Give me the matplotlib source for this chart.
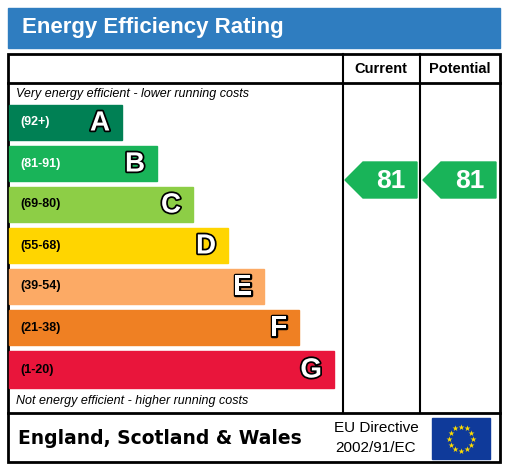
import matplotlib.pyplot as plt
from matplotlib.patches import Rectangle, Polygon
import matplotlib.patheffects as pe
import numpy as np

bands = ['A', 'B', 'C', 'D', 'E', 'F', 'G']
ranges = ['(92+)', '(81-91)', '(69-80)', '(55-68)', '(39-54)', '(21-38)', '(1-20)']
bar_ends = [122, 157, 193, 228, 264, 299, 334]
colors = ['#008054', '#19b459', '#8dce46', '#ffd500', '#fcaa65', '#ef8023', '#e9153b']
current = 81
potential = 81

fig = plt.figure(figsize=(5.09, 4.67), dpi=100)
ax = fig.add_axes([0, 0, 1, 1])
ax.set_xlim(0, 509)
ax.set_ylim(467, 0)
ax.axis('off')

# title bar
ax.add_patch(Rectangle((8, 8), 492, 40, color='#2f7dc0'))
ax.text(22, 28, 'Energy Efficiency Rating', color='white', fontsize=16,
        fontweight='bold', va='center', family='Liberation Sans')

# frame
ax.add_patch(Rectangle((8, 54), 492, 408, fill=False, lw=2, ec='black'))
ax.plot([8, 500], [83, 83], color='black', lw=2)
ax.plot([8, 500], [413, 413], color='black', lw=2)
for x in [343, 420]:
    ax.plot([x, x], [54, 413], color='black', lw=1.5)
ax.text(381, 69, 'Current', ha='center', va='center', fontsize=10.5,
        fontweight='bold', family='Liberation Sans')
ax.text(460, 69, 'Potential', ha='center', va='center', fontsize=10.5,
        fontweight='bold', family='Liberation Sans')

ax.text(16, 94, 'Very energy efficient - lower running costs', fontsize=9,
        style='italic', va='center', family='Liberation Sans')
ax.text(16, 401, 'Not energy efficient - higher running costs', fontsize=9,
        style='italic', va='center', family='Liberation Sans')

lows = [92, 81, 69, 55, 39, 21, 1]
for i, (b, r, e, c) in enumerate(zip(bands, ranges, bar_ends, colors)):
    y0 = 105 + i * 41
    h = 35 if i < 6 else 37
    ax.add_patch(Rectangle((9, y0), e - 9, h, color=c))
    tc = 'white' if i < 2 else 'black'
    ax.text(20, y0 + h / 2, r, fontsize=9, fontweight='bold', color=tc,
            va='center', family='Liberation Sans')
    ax.text(e - 12, y0 + h / 2 + 1, b, fontsize=20, fontweight='bold', color='white',
            ha='right', va='center', family='Liberation Sans',
            path_effects=[pe.withStroke(linewidth=2.5, foreground='black')])


def arrow(val, x0, x1):
    i = next(k for k, lo in enumerate(lows) if val >= lo)
    yc = 180
    c = colors[i]
    ax.add_patch(Polygon([(x0, yc), (x0 + 18, yc - 18), (x1, yc - 18),
                          (x1, yc + 18), (x0 + 18, yc + 18)], color=c))
    ax.text((x0 + 18 + x1) / 2 + 1, yc + 1, str(val), color='white', fontsize=19,
            fontweight='bold', ha='center', va='center', family='Liberation Sans')


arrow(current, 345, 417)
arrow(potential, 423, 496)

ax.text(18, 438, 'England, Scotland & Wales', fontsize=13.5, fontweight='bold',
        va='center', family='DejaVu Sans')
ax.text(376, 428, 'EU Directive', fontsize=11, ha='center', va='center',
        family='Liberation Sans')
ax.text(376, 448, '2002/91/EC', fontsize=11, ha='center', va='center',
        family='Liberation Sans')
ax.add_patch(Rectangle((432, 418), 58, 41, color='#0f3a9a'))
ang = np.linspace(0, 2 * np.pi, 13)[:-1]
ax.scatter(461 + 12 * np.cos(ang), 438.5 + 12 * np.sin(ang), marker='*',
           s=20, color='#ffdd00', linewidths=0, zorder=5)

fig.savefig('out.png', dpi=100)
